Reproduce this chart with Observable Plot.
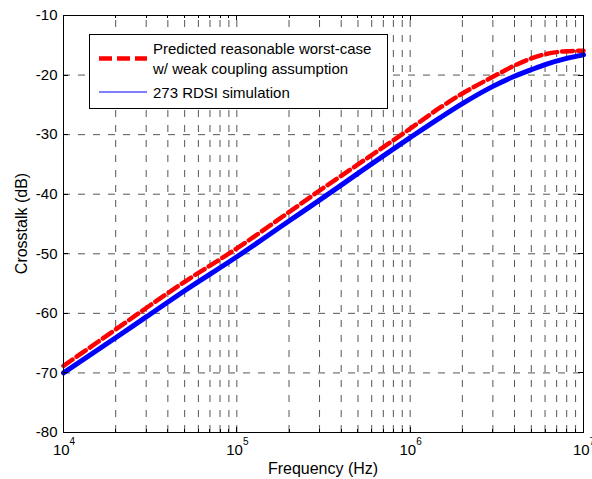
<!DOCTYPE html>
<html><head><meta charset="utf-8">
<script src="https://cdn.jsdelivr.net/npm/d3@7"></script>
<script src="https://cdn.jsdelivr.net/npm/@observablehq/plot@0.6"></script>
<style>body{margin:0;background:#fff} svg{display:block}</style>
</head><body><div id="chart"></div>
<script>
// ---- data ----
const freq = [1e4, 2e4, 3e4, 5e4, 1e5, 2e5, 3e5, 5e5, 1e6, 1.5e6, 2e6, 3e6, 4e6, 5e6, 6e6, 8e6, 1e7];
const worstCase = [-68.8, -62.7, -59.1, -54.7, -49.1, -43.0, -39.4, -35.0, -29.0, -25.4, -23.1, -20.3, -18.4, -17.2, -16.5, -16.0, -15.9];
const simulation = [-70.0, -64.1, -60.6, -56.2, -50.5, -44.5, -41.0, -36.5, -30.5, -27.1, -24.8, -21.9, -20.2, -19.1, -18.25, -17.2, -16.6];
const xMajorTicks = [1e4, 1e5, 1e6, 1e7];
const xTickExponents = ["4", "5", "6", "7"];
const yTicks = [-80, -70, -60, -50, -40, -30, -20, -10];
const yTickLabels = ["-80", "-70", "-60", "-50", "-40", "-30", "-20", "-10"];
const legendLabels = ["Predicted reasonable worst-case", "w/ weak coupling assumption", "273 RDSI simulation"];
const xLabel = "Frequency (Hz)";
const yLabel = "Crosstalk (dB)";

const xMinorTicks = [];
for (const d of [1e4, 1e5, 1e6]) for (let m = 2; m <= 9; m++) xMinorTicks.push(d * m);
const xGrid = xMajorTicks.slice(1, -1).concat(xMinorTicks);

const redData = freq.map((f, i) => ({f, v: worstCase[i]}));
const blueData = freq.map((f, i) => ({f, v: simulation[i]}));

const font = "'Liberation Sans', Arial, sans-serif";
const gridStyle = {stroke: "#555", strokeWidth: 1, strokeDasharray: "7,8"};

const chart = Plot.plot({
  width: 592, height: 479,
  marginLeft: 63, marginRight: 9, marginTop: 15, marginBottom: 47,
  x: {type: "log", domain: [1e4, 1e7], axis: null},
  y: {domain: [-80, -10], axis: null},
  style: {fontFamily: font, fontSize: "15px", background: "#fff", color: "#000"},
  marks: [
    Plot.ruleX(xGrid, {x: d => d, y1: -80, y2: -10, ...gridStyle}),
    Plot.ruleY(yTicks.slice(1, -1), {y: d => d, x1: 1e4, x2: 1e7, ...gridStyle}),
    Plot.line(redData, {x: "f", y: "v", stroke: "#ff0000", strokeWidth: 4.5, strokeDasharray: "11,5", curve: "monotone-x"}),
    Plot.line(blueData, {x: "f", y: "v", stroke: "#0000ff", strokeWidth: 5, curve: "monotone-x"}),
    Plot.frame({stroke: "#000", strokeWidth: 1})
  ]
});

document.getElementById("chart").appendChild(chart);

// ---- ticks, labels, legend via the chart's own scales ----
const svg = d3.select(chart);
const xs = chart.scale("x"), ys = chart.scale("y");
const X = v => xs.apply(v), Y = v => ys.apply(v);
const L = X(1e4), R = X(1e7), B = Y(-80), T = Y(-10);
const g = svg.append("g").attr("stroke", "#000").attr("stroke-width", 1);
const px = v => Math.round(v) + 0.5;

function vtick(x, len) {
  g.append("line").attr("x1", px(x)).attr("x2", px(x)).attr("y1", B).attr("y2", B - len);
  g.append("line").attr("x1", px(x)).attr("x2", px(x)).attr("y1", T).attr("y2", T + len);
}
function htick(y, len) {
  g.append("line").attr("y1", px(y)).attr("y2", px(y)).attr("x1", L).attr("x2", L + len);
  g.append("line").attr("y1", px(y)).attr("y2", px(y)).attr("x1", R).attr("x2", R - len);
}
xMajorTicks.forEach(v => vtick(X(v), 5));
xMinorTicks.forEach(v => vtick(X(v), 3));
yTicks.forEach(v => htick(Y(v), 5));

const tg = svg.append("g").attr("font-family", font).attr("font-size", 15).attr("fill", "#000");
yTicks.forEach((v, i) => {
  tg.append("text").attr("x", L - 5.5).attr("y", Y(v)).attr("dy", "0.35em")
    .attr("text-anchor", "end").text(yTickLabels[i]);
});
xMajorTicks.forEach((v, i) => {
  const t = tg.append("text").attr("x", X(v) + 1).attr("y", 455).attr("text-anchor", "middle");
  t.append("tspan").text("10");
  t.append("tspan").attr("dy", -10).attr("font-size", 10).text(xTickExponents[i]);
});
tg.append("text").attr("x", (L + R) / 2).attr("y", 474).attr("font-size", 16)
  .attr("text-anchor", "middle").text(xLabel);
tg.append("text").attr("transform", `translate(26.5,${(T + B) / 2}) rotate(-90)`)
  .attr("font-size", 16).attr("text-anchor", "middle").text(yLabel);

// legend
const lg = svg.append("g").attr("font-family", font).attr("font-size", 15).attr("text-anchor", "start").attr("fill", "#000");
lg.append("rect").attr("x", 89.5).attr("y", 34.5).attr("width", 298).attr("height", 74)
  .attr("fill", "#fff").attr("stroke", "#000").attr("stroke-width", 1);
lg.append("line").attr("x1", 99).attr("x2", 147).attr("y1", 58.5).attr("y2", 58.5)
  .attr("stroke", "#ff0000").attr("stroke-width", 4.5).attr("stroke-dasharray", "13,5");
lg.append("line").attr("x1", 99).attr("x2", 147).attr("y1", 92).attr("y2", 92)
  .attr("stroke", "#0000ff").attr("stroke-width", 1);
lg.append("text").attr("x", 153).attr("y", 54).text(legendLabels[0]);
lg.append("text").attr("x", 153).attr("y", 73.5).text(legendLabels[1]);
lg.append("text").attr("x", 153).attr("y", 97.5).text(legendLabels[2]);
</script>
</body></html>
